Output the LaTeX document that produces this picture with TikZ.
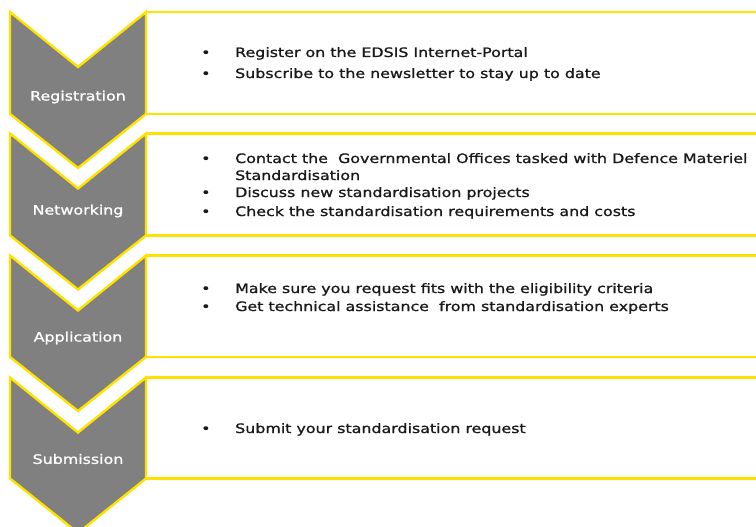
\documentclass[tikz,border=0pt]{standalone}
\usepackage{fontspec}
\setmainfont{DejaVu Sans}
\newfontfamily\stepfont[FakeStretch=1.22,FakeBold=1.1]{DejaVu Sans}
\usetikzlibrary{positioning}

\definecolor{edsisyellow}{RGB}{255,226,0}
\definecolor{edsisgrey}{RGB}{128,128,128}

\tikzset{
  chevron/.style={fill=edsisgrey,draw=edsisyellow,line width=2.4pt,line join=miter},
  stepframe/.style={draw=edsisyellow,line width=2.2pt},
  steplabel/.style={text=white,inner sep=0pt,font=\stepfont\fontsize{13}{15}\selectfont},
  bulletline/.style={anchor=base west,inner sep=0pt,text=black!90,font=\stepfont\fontsize{13}{15}\selectfont},
}

\begin{document}
\begin{tikzpicture}[x=1pt,y=-1pt]
\useasboundingbox (0,0) rectangle (756,527);

% Registration
\draw[stepframe] (146,12) -- (760,12);
\draw[stepframe] (146,114) -- (760,114);
\draw[chevron] (10,12) -- (78,67) -- (146,12) -- (146,114) -- (78,168) -- (10,114) -- cycle;
\node[steplabel] (reg) at (78,97) {Registration};
\node[bulletline] (reg1b) at (201,57) {•};
\node[bulletline] (reg1) at (235,57) {Register on the EDSIS Internet-Portal};
\node[bulletline] (reg2b) at (201,78) {•};
\node[bulletline] (reg2) at (235,78) {Subscribe to the newsletter to stay up to date};

% Networking
\draw[stepframe] (146,133.5) -- (760,133.5);
\draw[stepframe] (146,235.5) -- (760,235.5);
\draw[chevron] (10,133.5) -- (78,188.5) -- (146,133.5) -- (146,235.5) -- (78,289.5) -- (10,235.5) -- cycle;
\node[steplabel] (net) at (78,211) {Networking};
\node[bulletline] (net1b) at (201,163) {•};
\node[bulletline] (net1) at (235,163) {Contact the\ \ Governmental Offices tasked with Defence Materiel};
\node[bulletline] (net1c) at (235,180) {Standardisation};
\node[bulletline] (net2b) at (201,197) {•};
\node[bulletline] (net2) at (235,197) {Discuss new standardisation projects};
\node[bulletline] (net3b) at (201,216) {•};
\node[bulletline] (net3) at (235,216) {Check the standardisation requirements and costs};

% Application
\draw[stepframe] (146,255.5) -- (760,255.5);
\draw[stepframe] (146,357) -- (760,357);
\draw[chevron] (10,255.5) -- (78,310.5) -- (146,255.5) -- (146,357) -- (78,411) -- (10,357) -- cycle;
\node[steplabel] (app) at (78,338) {Application};
\node[bulletline] (app1b) at (201,293) {•};
\node[bulletline] (app1) at (235,293) {Make sure you request fits with the eligibility criteria};
\node[bulletline] (app2b) at (201,311) {•};
\node[bulletline] (app2) at (235,311) {Get technical assistance\ \ from standardisation experts};

% Submission
\draw[stepframe] (146,377.5) -- (760,377.5);
\draw[stepframe] (146,478.5) -- (760,478.5);
\draw[chevron] (10,377.5) -- (78,432.5) -- (146,377.5) -- (146,478.5) -- (78,533) -- (10,478.5) -- cycle;
\node[steplabel] (sub) at (78,459) {Submission};
\node[bulletline] (sub1b) at (201,433) {•};
\node[bulletline] (sub1) at (235,433) {Submit your standardisation request};
\end{tikzpicture}
\end{document}
